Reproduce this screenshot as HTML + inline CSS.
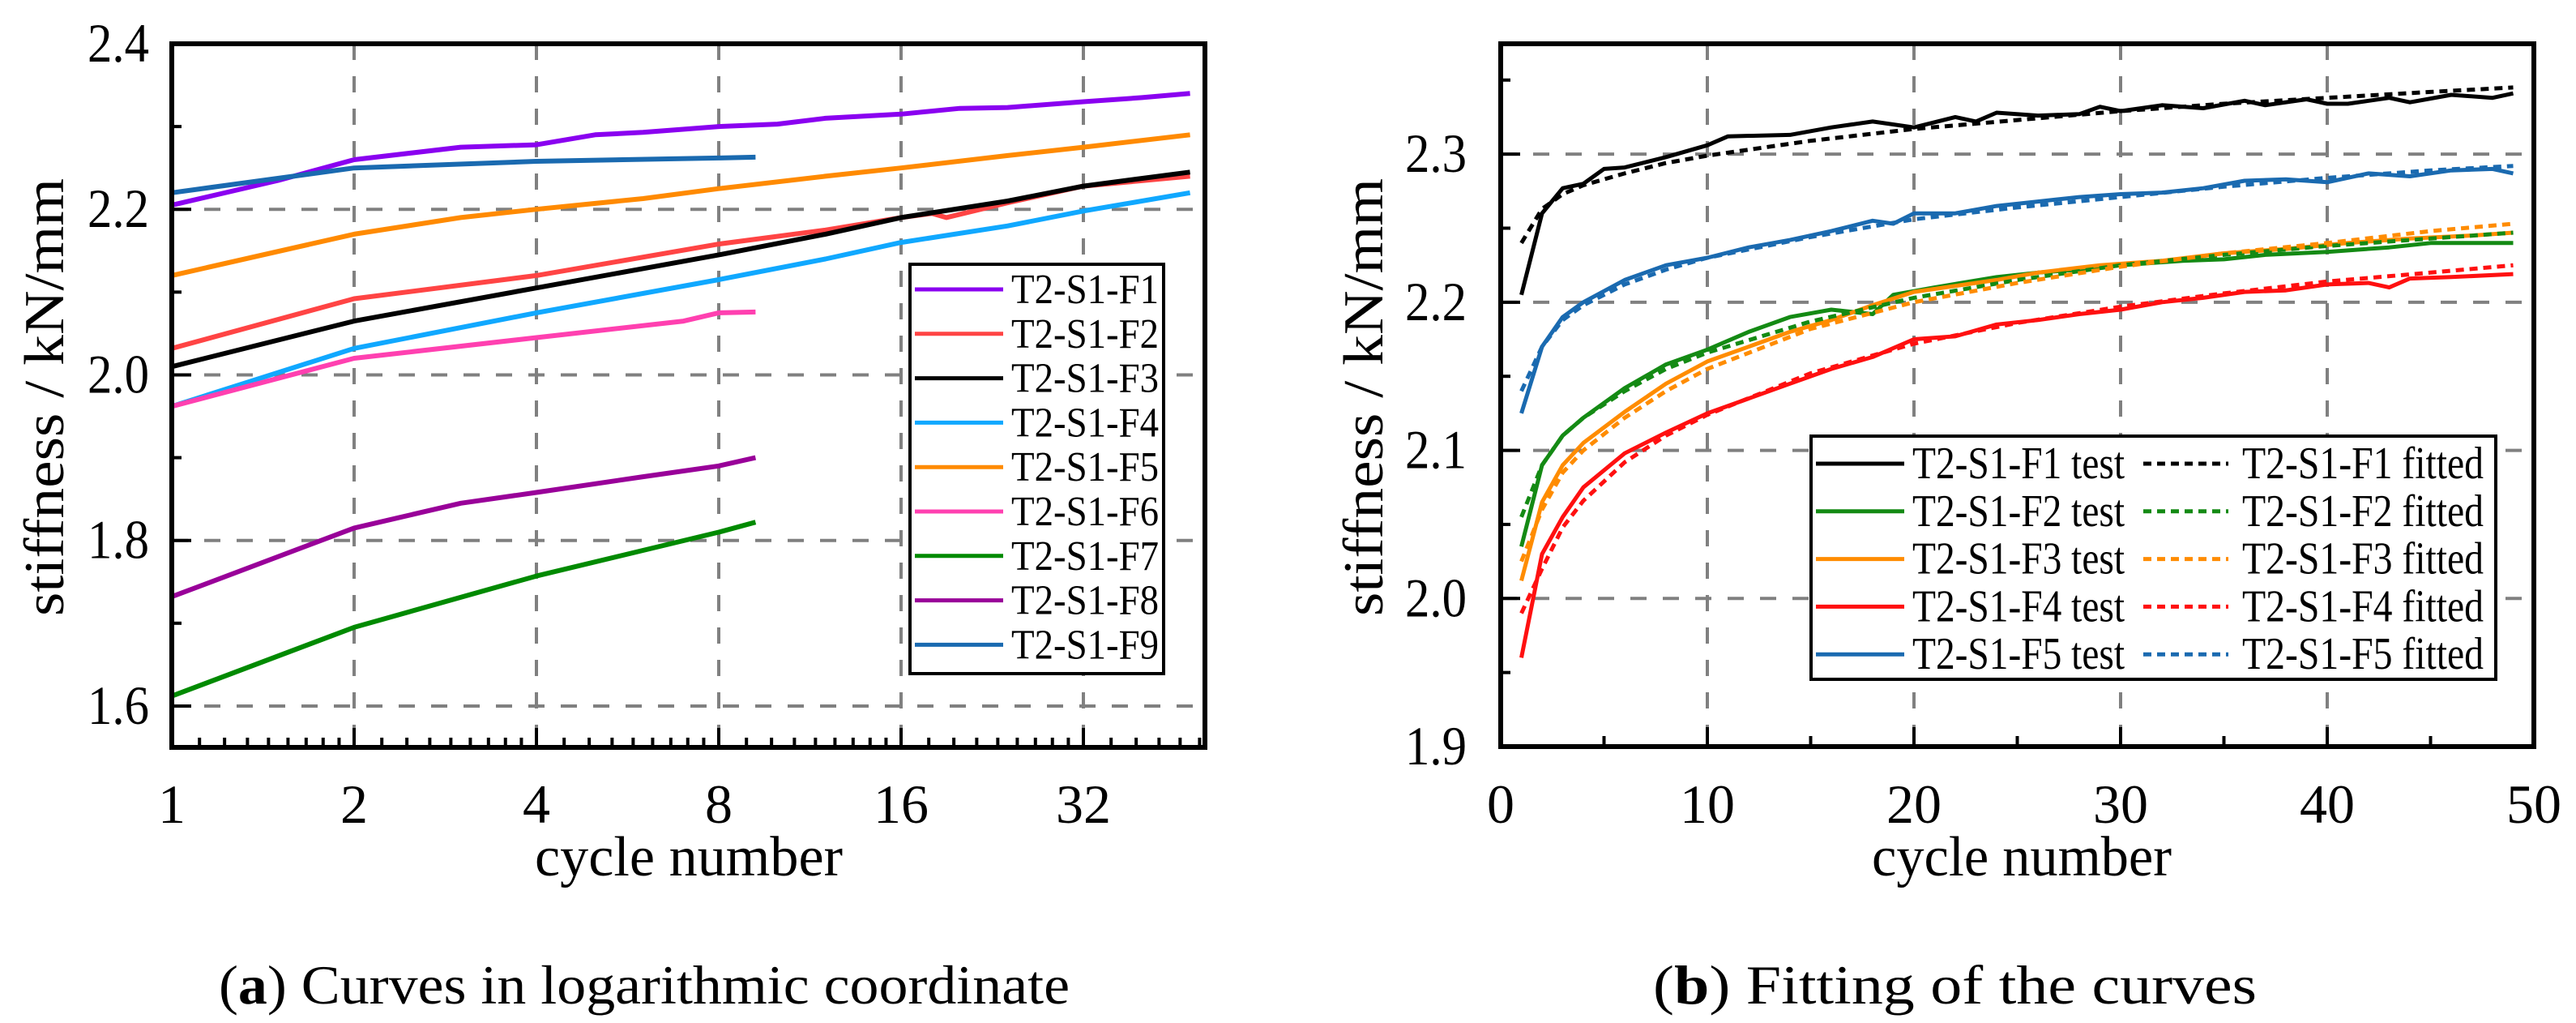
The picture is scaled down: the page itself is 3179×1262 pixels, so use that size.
<!DOCTYPE html>
<html><head><meta charset="utf-8"><style>
html,body{margin:0;padding:0;background:#fff;}
svg{display:block;font-family:"Liberation Serif",serif;}
</style></head><body>
<svg id="fig" width="3179" height="1262" viewBox="0 0 3179 1262" xmlns="http://www.w3.org/2000/svg">
<g id="chartA"></g>
<g id="chartB"></g>
<text x="270" y="1238" font-size="68" textLength="1050" lengthAdjust="spacingAndGlyphs">(<tspan font-weight="bold">a</tspan>) Curves in logarithmic coordinate</text>
<text x="2040" y="1238" font-size="68" textLength="745" lengthAdjust="spacingAndGlyphs">(<tspan font-weight="bold">b</tspan>) Fitting of the curves</text>
</svg>
<script>
// ---------- Chart A data ----------
const aNames = ["T2-S1-F1","T2-S1-F2","T2-S1-F3","T2-S1-F4","T2-S1-F5","T2-S1-F6","T2-S1-F7","T2-S1-F8","T2-S1-F9"];
const aColors = ["#8a00f0","#ff4444","#000000","#10a8ff","#ff8a00","#ff40b0","#008a00","#990099","#1a6ab0"];
const aX1 = [1,1.5,2,3,4,5,6,8,10,12,16,20,24,32,40,48];
const aF1 = [2.205,2.235,2.26,2.275,2.278,2.29,2.293,2.300,2.303,2.31,2.315,2.322,2.323,2.33,2.335,2.34];
const aX2 = [1,2,4,8,12,16,18,19,24,32,48];
const aF2 = [2.032,2.092,2.12,2.158,2.175,2.19,2.195,2.19,2.208,2.228,2.24];
const aX3 = [1,2,4,8,12,16,24,32,48];
const aF3 = [2.01,2.065,2.105,2.145,2.17,2.19,2.21,2.228,2.245];
const aF4 = [1.962,2.032,2.075,2.115,2.14,2.16,2.18,2.198,2.22];
const aX5 = [1,2,3,4,6,8,12,16,24,32,48];
const aF5 = [2.12,2.17,2.19,2.20,2.213,2.225,2.24,2.25,2.265,2.275,2.29];
const aX6 = [1,2,4,7,8,9.2];
const aF6 = [1.962,2.02,2.045,2.065,2.075,2.076];
const aX7 = [1,2,4,8,9.2];
const aF7 = [1.612,1.695,1.757,1.81,1.822];
const aX8 = [1,2,3,4,6,8,9.2];
const aF8 = [1.732,1.815,1.845,1.858,1.877,1.89,1.9];
const aF9 = [2.22,2.25,2.258,2.262,2.263];
const aXTicks = [1,2,4,8,16,32];
const aYTicks = [1.6,1.8,2.0,2.2,2.4];
// ---------- Chart B data ----------
const bNames = ["T2-S1-F1","T2-S1-F2","T2-S1-F3","T2-S1-F4","T2-S1-F5"];
const bColors = ["#000000","#148a14","#ff8c00","#ff1010","#1a6ab0"];
const bT1x = [1,2,3,4,5,6,8,10,11,14,16,18,20,22,23,24,26,28,29,30,32,34,36,37,39,40,41,43,44,46,48,49];
const bT1y = [2.205,2.26,2.277,2.28,2.29,2.291,2.298,2.306,2.312,2.313,2.318,2.322,2.318,2.325,2.322,2.328,2.326,2.327,2.332,2.329,2.333,2.331,2.336,2.333,2.337,2.334,2.334,2.338,2.335,2.34,2.338,2.341];
const bT2x = [1,2,3,4,6,8,10,12,14,16,18,19,21,24,26,28,30,33,35,37,40,43,45,49];
const bT2y = [2.035,2.09,2.11,2.122,2.142,2.158,2.168,2.18,2.19,2.195,2.192,2.205,2.21,2.217,2.22,2.222,2.225,2.228,2.229,2.232,2.234,2.237,2.24,2.24];
const bT3x = [1,2,3,4,6,8,10,12,14,16,18,20,24,26,29,32,35,38,41,44,47,49];
const bT3y = [2.012,2.065,2.09,2.105,2.126,2.145,2.16,2.17,2.18,2.188,2.198,2.207,2.215,2.22,2.225,2.228,2.233,2.236,2.24,2.243,2.245,2.247];
const bT4x = [1,2,3,4,6,8,10,12,14,16,18,20,22,24,26,28,30,32,34,36,38,40,42,43,44,46,49];
const bT4y = [1.96,2.03,2.055,2.075,2.098,2.112,2.125,2.135,2.145,2.155,2.163,2.175,2.177,2.185,2.188,2.192,2.195,2.2,2.203,2.207,2.208,2.212,2.213,2.21,2.216,2.217,2.219];
const bT5x = [1,2,3,4,6,8,10,12,14,16,18,19,20,22,24,26,28,30,32,34,36,38,40,42,44,46,48,49];
const bT5y = [2.125,2.17,2.19,2.2,2.215,2.225,2.23,2.237,2.242,2.248,2.255,2.253,2.26,2.26,2.265,2.268,2.271,2.273,2.274,2.277,2.282,2.283,2.281,2.287,2.285,2.289,2.29,2.287];
const bFx = [1,2,3,4,6,8,10,15,20,25,30,35,40,45,49];
const bF1 = [2.24,2.263,2.273,2.279,2.287,2.294,2.299,2.309,2.317,2.323,2.329,2.334,2.338,2.342,2.345];
const bF2 = [2.055,2.09,2.11,2.122,2.14,2.155,2.166,2.187,2.203,2.215,2.225,2.232,2.238,2.243,2.247];
const bF3 = [2.025,2.06,2.085,2.1,2.122,2.14,2.155,2.182,2.2,2.213,2.224,2.233,2.24,2.248,2.253];
const bF4 = [1.99,2.02,2.048,2.066,2.092,2.11,2.124,2.152,2.172,2.186,2.197,2.206,2.214,2.22,2.225];
const bF5 = [2.14,2.17,2.188,2.198,2.212,2.222,2.23,2.244,2.256,2.264,2.271,2.278,2.284,2.289,2.292];
const bXTicks = [0,10,20,30,40,50];
const bYTicks = [1.9,2.0,2.1,2.2,2.3];

const NS="http://www.w3.org/2000/svg";
function mk(parent,tag,attrs,txt){const e=document.createElementNS(NS,tag);for(const k in attrs)e.setAttribute(k,attrs[k]);if(txt!==undefined)e.textContent=txt;parent.appendChild(e);return e;}

// ---- Chart A axes ----
const A={l:212,r:1487,t:54,b:922,xmax:Math.log2(50.8),ymin:1.55,ymax:2.4};
const ax=v=>A.l+Math.log2(v)/A.xmax*(A.r-A.l);
const ay=v=>A.b-(v-A.ymin)/(A.ymax-A.ymin)*(A.b-A.t);
const gA=document.getElementById('chartA');
aXTicks.slice(1).forEach(v=>{const e=mk(gA,'line',{x1:ax(v),x2:ax(v),y1:A.t,y2:A.b,stroke:'#808080','stroke-width':4,'stroke-dasharray':'20 20'});

});
aYTicks.slice(0,4).forEach(v=>{const e=mk(gA,'line',{x1:A.l,x2:A.r,y1:ay(v),y2:ay(v),stroke:'#808080','stroke-width':4,'stroke-dasharray':'20 20'});

});
function aSeries(xs,ys,i){const d=xs.map((x,j)=>(j?'L':'M')+ax(x).toFixed(1)+','+ay(ys[j]).toFixed(1)).join('');
const e=mk(gA,'path',{d:d,fill:'none',stroke:aColors[i],'stroke-width':6,'stroke-linejoin':'round'});

}
aSeries(aX1,aF1,0);aSeries(aX2,aF2,1);aSeries(aX3,aF3,2);aSeries(aX3,aF4,3);aSeries(aX5,aF5,4);
aSeries(aX6,aF6,5);aSeries(aX7,aF7,6);aSeries(aX8,aF8,7);aSeries(aX7,aF9,8);
for(let p=0;p<6;p++){const base=Math.pow(2,p);
 for(let k=1;k<9;k++){const v=base*(1+k/9);if(v>50.8)break;mk(gA,'line',{x1:ax(v),x2:ax(v),y1:A.b,y2:A.b-12,stroke:'#000','stroke-width':4});}
 mk(gA,'line',{x1:ax(base),x2:ax(base),y1:A.b,y2:A.b-24,stroke:'#000','stroke-width':4});}
[1.7,1.9,2.1,2.3].forEach(v=>mk(gA,'line',{x1:A.l,x2:A.l+12,y1:ay(v),y2:ay(v),stroke:'#000','stroke-width':4}));
aYTicks.forEach(v=>mk(gA,'line',{x1:A.l,x2:A.l+24,y1:ay(v),y2:ay(v),stroke:'#000','stroke-width':4}));
let fr=mk(gA,'rect',{x:A.l,y:A.t,width:A.r-A.l,height:A.b-A.t,fill:'none',stroke:'#000','stroke-width':6});


aXTicks.forEach(v=>{const e=mk(gA,'text',{x:ax(v),y:1015,'font-size':68,'text-anchor':'middle'},String(v));

});
aYTicks.forEach(v=>{const e=mk(gA,'text',{x:184,y:ay(v)+22,'font-size':68,'text-anchor':'end',textLength:76,lengthAdjust:'spacingAndGlyphs'},v.toFixed(1));

});
let t=mk(gA,'text',{x:850,y:1080,'font-size':70,'text-anchor':'middle',textLength:380,lengthAdjust:'spacingAndGlyphs'},'cycle number');


t=mk(gA,'text',{x:0,y:0,'font-size':70,'text-anchor':'middle',textLength:540,lengthAdjust:'spacingAndGlyphs',transform:'translate(78,490) rotate(-90)'},'stiffness / kN/mm');


const legA=mk(gA,'g',{});


mk(legA,'rect',{x:1123,y:326,width:313,height:505,fill:'#fff',stroke:'#000','stroke-width':4});
aNames.forEach((n,i)=>{const y=357+i*54.8;
 mk(legA,'line',{x1:1129,x2:1238,y1:y,y2:y,stroke:aColors[i],'stroke-width':5});
 const e=mk(legA,'text',{x:1248,y:y+17,'font-size':52,textLength:182,lengthAdjust:'spacingAndGlyphs'},n);
 
 });

// ---- Chart B axes ----
const B={l:1852,r:3127,t:54,b:921,xmin:0,xmax:50,ymin:1.9,ymax:2.3745};
const bx=v=>B.l+(v-B.xmin)/(B.xmax-B.xmin)*(B.r-B.l);
const by=v=>B.b-(v-B.ymin)/(B.ymax-B.ymin)*(B.b-B.t);
const gB=document.getElementById('chartB');
bXTicks.slice(1,5).forEach(v=>{const e=mk(gB,'line',{x1:bx(v),x2:bx(v),y1:B.t,y2:B.b,stroke:'#808080','stroke-width':4,'stroke-dasharray':'20 20'});

});
bYTicks.slice(1).forEach(v=>{const e=mk(gB,'line',{x1:B.l,x2:B.r,y1:by(v),y2:by(v),stroke:'#808080','stroke-width':4,'stroke-dasharray':'20 20'});

});
function bSeries(xs,ys,i,dashed){const d=xs.map((x,j)=>(j?'L':'M')+bx(x).toFixed(1)+','+by(ys[j]).toFixed(1)).join('');
const at={d:d,fill:'none',stroke:bColors[i],'stroke-width':5,'stroke-linejoin':'round'};if(dashed)at['stroke-dasharray']='10 7';
const e=mk(gB,'path',at);

}
bSeries(bT1x,bT1y,0,false);bSeries(bT2x,bT2y,1,false);bSeries(bT3x,bT3y,2,false);bSeries(bT4x,bT4y,3,false);bSeries(bT5x,bT5y,4,false);
bSeries(bFx,bF1,0,true);bSeries(bFx,bF2,1,true);bSeries(bFx,bF3,2,true);bSeries(bFx,bF4,3,true);bSeries(bFx,bF5,4,true);
for(let v=5;v<50;v+=10)mk(gB,'line',{x1:bx(v),x2:bx(v),y1:B.b,y2:B.b-13,stroke:'#000','stroke-width':4});
bXTicks.forEach(v=>mk(gB,'line',{x1:bx(v),x2:bx(v),y1:B.b,y2:B.b-24,stroke:'#000','stroke-width':4}));
[1.95,2.05,2.15,2.25,2.35].forEach(v=>mk(gB,'line',{x1:B.l,x2:B.l+12,y1:by(v),y2:by(v),stroke:'#000','stroke-width':4}));
bYTicks.forEach(v=>mk(gB,'line',{x1:B.l,x2:B.l+24,y1:by(v),y2:by(v),stroke:'#000','stroke-width':4}));
fr=mk(gB,'rect',{x:B.l,y:B.t,width:B.r-B.l,height:B.b-B.t,fill:'none',stroke:'#000','stroke-width':6});


bXTicks.forEach(v=>{const e=mk(gB,'text',{x:bx(v),y:1015,'font-size':68,'text-anchor':'middle'},String(v));

});
bYTicks.forEach(v=>{const e=mk(gB,'text',{x:1810,y:by(v)+22,'font-size':68,'text-anchor':'end',textLength:76,lengthAdjust:'spacingAndGlyphs'},v.toFixed(1));

});
t=mk(gB,'text',{x:2495,y:1080,'font-size':70,'text-anchor':'middle',textLength:370,lengthAdjust:'spacingAndGlyphs'},'cycle number');


t=mk(gB,'text',{x:0,y:0,'font-size':70,'text-anchor':'middle',textLength:540,lengthAdjust:'spacingAndGlyphs',transform:'translate(1706,490) rotate(-90)'},'stiffness / kN/mm');


const legB=mk(gB,'g',{});


mk(legB,'rect',{x:2235,y:538,width:845,height:300,fill:'#fff',stroke:'#000','stroke-width':4});
bNames.forEach((n,i)=>{const y=572+i*58.8;
 mk(legB,'line',{x1:2241,x2:2350,y1:y,y2:y,stroke:bColors[i],'stroke-width':5});
 const e1=mk(legB,'text',{x:2360,y:y+18,'font-size':56,textLength:262,lengthAdjust:'spacingAndGlyphs'},n+' test');
 
 
 mk(legB,'line',{x1:2645,x2:2750,y1:y,y2:y,stroke:bColors[i],'stroke-width':5,'stroke-dasharray':'10 7'});
 const e2=mk(legB,'text',{x:2767,y:y+18,'font-size':56,textLength:298,lengthAdjust:'spacingAndGlyphs'},n+' fitted');
 
 });
</script>
</body></html>
